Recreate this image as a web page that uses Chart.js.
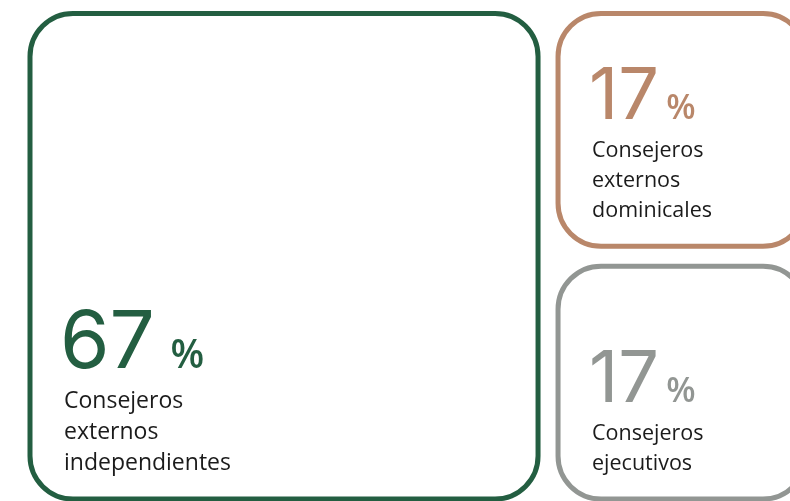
<!DOCTYPE html>
<html>
<head>
<meta charset="utf-8">
<script src="https://cdn.jsdelivr.net/npm/chart.js@4.4.1/dist/chart.umd.min.js"></script>
<style>
  html, body { margin: 0; padding: 0; overflow: hidden; background: #fff; }
  canvas { display: block; }
</style>
</head>
<body>
<canvas id="board" width="820" height="515"></canvas>
<script>
// composición del consejo (%)
var categories = ['Consejeros externos independientes', 'Consejeros externos dominicales', 'Consejeros ejecutivos'];
var labelLines = [
    ['Consejeros', 'externos', 'independientes'],
    ['Consejeros', 'externos', 'dominicales'],
    ['Consejeros', 'ejecutivos']
];
var values = [67, 17, 17];
var colors = ['#235E41', '#B9876A', '#929693'];

var total = values.reduce(function(a, b) { return a + b; }, 0);
var rest = total - values[0];

// treemap sencillo: la primera celda ocupa toda la altura, el resto se apila a la derecha
function buildCells() {
    var cells = [{ x0: 0, x1: values[0], y0: 0, y1: rest }];
    var acc = 0;
    for (var i = 1; i < values.length; i++) {
        cells.push({ x0: values[0], x1: total, y0: acc, y1: acc + values[i] });
        acc += values[i];
    }
    return cells;
}
var cells = buildCells();

function roundBox(ctx, l, t, r, b, rad) {
    ctx.beginPath();
    ctx.moveTo(l + rad, t);
    ctx.lineTo(r - rad, t);
    ctx.arc(r - rad, t + rad, rad, -Math.PI / 2, 0);
    ctx.lineTo(r, b - rad);
    ctx.arc(r - rad, b - rad, rad, 0, Math.PI / 2);
    ctx.lineTo(l + rad, b);
    ctx.arc(l + rad, b - rad, rad, Math.PI / 2, Math.PI);
    ctx.lineTo(l, t + rad);
    ctx.arc(l + rad, t + rad, rad, Math.PI, Math.PI * 1.5);
    ctx.closePath();
}

var treemapBoxes = {
    id: 'treemapBoxes',
    afterDatasetsDraw: function(chart) {
        var ctx = chart.ctx;
        var sx = chart.scales.x, sy = chart.scales.y;
        var gap = 20;
        cells.forEach(function(c, i) {
            var l = sx.getPixelForValue(c.x0) + gap / 2;
            var r = sx.getPixelForValue(c.x1) - gap / 2;
            var t = sy.getPixelForValue(c.y0) + gap / 2;
            var b = sy.getPixelForValue(c.y1) - gap / 2;
            var big = i == 0;
            var st = big ? { num: 80, pct: 39, lab: 23, lh: 31, sp: 20, up: 40 }
                         : { num: 72, pct: 34, lab: 21.5, lh: 30, sp: 11, up: 38 };

            ctx.save();
            ctx.lineWidth = 5;
            ctx.strokeStyle = colors[i];
            roundBox(ctx, l, t, r, b, 43);
            ctx.stroke();

            var tx = l + 34;
            var lines = labelLines[i];
            var lastBase = b - 29;
            ctx.fillStyle = '#1b1b1b';
            ctx.textBaseline = 'alphabetic';
            ctx.font = st.lab + 'px "Open Sans"';
            lines.forEach(function(txt, k) {
                ctx.fillText(txt, tx, lastBase - (lines.length - 1 - k) * st.lh);
            });

            var numBase = lastBase - (lines.length - 1) * st.lh - st.up;
            ctx.fillStyle = colors[i];
            ctx.font = st.num + 'px Inter';
            var num = String(values[i]);
            var m = ctx.measureText(num);
            ctx.fillText(num, tx + m.actualBoundingBoxLeft, numBase);
            var inkRight = tx + m.actualBoundingBoxLeft + m.actualBoundingBoxRight;
            ctx.font = '600 ' + st.pct + 'px "Open Sans"';
            var pm = ctx.measureText('%');
            ctx.fillText('%', inkRight + st.sp + pm.actualBoundingBoxLeft, numBase);
            ctx.restore();
        });
    }
};

new Chart(document.getElementById('board'), {
    type: 'scatter',
    data: {
        datasets: [{
            label: 'Consejo',
            data: cells.map(function(c) { return { x: (c.x0 + c.x1) / 2, y: (c.y0 + c.y1) / 2 }; }),
            pointRadius: 0
        }]
    },
    options: {
        responsive: false,
        animation: false,
        layout: { padding: { left: 20, top: 3.5, right: 4, bottom: 6 } },
        plugins: { legend: { display: false }, tooltip: { enabled: false } },
        scales: {
            x: { type: 'linear', display: false, min: 0, max: total },
            y: { type: 'linear', display: false, min: 0, max: rest, reverse: true }
        }
    },
    plugins: [treemapBoxes]
});
</script>
</body>
</html>
